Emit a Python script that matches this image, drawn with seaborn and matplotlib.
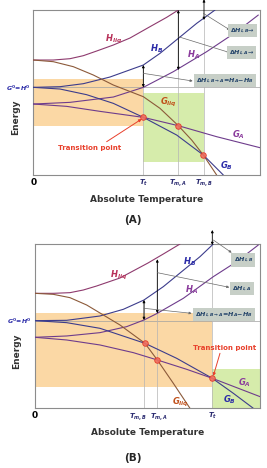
import matplotlib
matplotlib.use("Agg")
import matplotlib.pyplot as plt
import seaborn as sns

# ---- panel (A): transition temperature below both melting points ----
# schematic units (x: 0..680, y: 0..495)
a_hliq_x = [0, 60, 110, 150, 190, 240, 290, 350, 400, 435]
a_hliq_y = [345, 345, 349, 358, 372, 390, 411, 445, 473, 495]
a_hb_x = [0, 80, 150, 230, 330, 380, 435, 490, 545]
a_hb_y = [263, 265, 274, 294, 330, 365, 410, 455, 495]
a_ha_x = [0, 110, 240, 330, 420, 520, 610, 675]
a_ha_y = [213, 218, 234, 263, 310, 370, 430, 480]
a_gliq_x = [0, 60, 120, 180, 240, 330, 380, 435, 475, 510, 550]
a_gliq_y = [345, 340, 325, 300, 270, 235, 200, 148, 105, 60, 0]
a_gb_x = [0, 80, 160, 240, 330, 430, 510, 570]
a_gb_y = [263, 258, 241, 215, 173, 120, 60, 0]
a_ga_x = [0, 100, 200, 330, 435, 550, 680]
a_ga_y = [213, 206, 191, 173, 148, 115, 82]
a_points_x = [330, 435, 510]
a_points_y = [173, 148, 60]
a_ticks = [0, 330, 435, 512]
a_ticklabels = ["0", r"$T_t$", r"$T_{m,A}$", r"$T_{m,B}$"]
a_vline_top = [330, 495, 465]
a_g0 = 263

# ---- panel (B): transition temperature above both melting points ----
# schematic units (x: 0..675, y: 0..493)
b_hliq_x = [0, 55, 105, 145, 185, 255, 339, 385, 435]
b_hliq_y = [345, 345, 347, 355, 367, 391, 436, 463, 493]
b_hb_x = [0, 95, 195, 265, 327, 385, 440, 495, 535]
b_hb_y = [263, 264, 277, 297, 325, 365, 410, 455, 493]
b_ha_x = [0, 95, 195, 275, 327, 367, 445, 535, 605, 670]
b_ha_y = [213, 217, 227, 245, 265, 285, 330, 395, 440, 490]
b_gliq_x = [0, 55, 105, 155, 205, 255, 330, 367, 415, 465]
b_gliq_y = [345, 342, 332, 310, 280, 250, 195, 145, 75, 0]
b_gb_x = [0, 95, 195, 330, 425, 532, 595, 655]
b_gb_y = [263, 257, 240, 195, 150, 90, 45, 0]
b_ga_x = [0, 95, 195, 295, 367, 455, 532, 675]
b_ga_y = [213, 205, 190, 167, 145, 117, 90, 35]
b_points_x = [330, 367, 532]
b_points_y = [195, 145, 90]
b_ticks = [0, 310, 373, 532]
b_ticklabels = ["0", r"$T_{m,B}$", r"$T_{m,A}$", r"$T_t$"]
b_vline_x = [327, 367, 532]
b_vline_top = [325, 447, 490]
b_g0 = 263

sns.set_style("white")
plt.rcParams["font.family"] = ["DejaVu Sans"]
plt.rcParams["mathtext.fontset"] = "custom"
plt.rcParams["mathtext.it"] = "DejaVu Sans:italic:bold"
plt.rcParams["mathtext.rm"] = "DejaVu Sans:bold"
plt.rcParams["mathtext.bf"] = "DejaVu Sans:bold"

line_col = {"hliq": "#8e3a6e", "hb": "#3c3c8c", "ha": "#6e3c8c",
            "gliq": "#8c5a3a", "ga": "#6e3c8c", "gb": "#3c3c8c"}
lab_col = {"hliq": "#b8325a", "hb": "#2b2ba8", "ha": "#8a3a9c",
           "gliq": "#c0501a", "ga": "#8a3a9c", "gb": "#2b2ba8"}
lab_txt = {"hliq": r"$H_{liq}$", "hb": r"$H_B$", "ha": r"$H_A$",
           "gliq": r"$G_{liq}$", "ga": r"$G_A$", "gb": r"$G_B$"}

panels = {
    "A": dict(
        curves={"hliq": (a_hliq_x, a_hliq_y), "hb": (a_hb_x, a_hb_y), "ha": (a_ha_x, a_ha_y),
                "gliq": (a_gliq_x, a_gliq_y), "gb": (a_gb_x, a_gb_y), "ga": (a_ga_x, a_ga_y)},
        xlim=680, ylim=495, g0=a_g0,
        orange=((0, 330), (148, 288)), green=((330, 512), (40, 245)),
        vx=[330, 435, 512], vtop=a_vline_top,
        pts=(a_points_x, a_points_y), ticks=a_ticks, ticklabels=a_ticklabels,
        darrows=[(330, 263, 330), (435, 315, 495), (512, 465, 527)],
        garrows=[((510, 485), (590, 435)), ((435, 415), (590, 367)), ((330, 305), (478, 282))],
        boxes=[(628, 433, r"$\Delta H_{l,B}$→"), (625, 367, r"$\Delta H_{l,A}$→"),
               (575, 283, r"$\Delta H_{l,B\rightarrow A}\!=\!H_A\!-\!H_B$")],
        labels={"hliq": (240, 407), "hb": (370, 380), "ha": (480, 360),
                "gliq": (405, 217), "ga": (615, 120), "gb": (580, 28)},
        tp_text=(170, 80), tp_arrow=((220, 100), (325, 168)),
    ),
    "B": dict(
        curves={"hliq": (b_hliq_x, b_hliq_y), "hb": (b_hb_x, b_hb_y), "ha": (b_ha_x, b_ha_y),
                "gliq": (b_gliq_x, b_gliq_y), "gb": (b_gb_x, b_gb_y), "ga": (b_ga_x, b_ga_y)},
        xlim=675, ylim=493, g0=b_g0,
        orange=((0, 532), (65, 287)), green=((532, 675), (0, 117)),
        vx=b_vline_x, vtop=b_vline_top,
        pts=(b_points_x, b_points_y), ticks=b_ticks, ticklabels=b_ticklabels,
        darrows=[(327, 265, 325), (367, 285, 447), (532, 490, 535)],
        garrows=[((535, 505), (590, 467)), ((367, 407), (583, 363)), ((327, 300), (470, 285))],
        boxes=[(625, 445, r"$\Delta H_{l,B}$"), (620, 360, r"$\Delta H_{l,A}$"),
               (567, 282, r"$\Delta H_{l,B\rightarrow A}\!=\!H_A\!-\!H_B$")],
        labels={"hliq": (250, 400), "hb": (463, 440), "ha": (470, 357),
                "gliq": (437, 17), "ga": (627, 77), "gb": (583, 27)},
        tp_text=(570, 180), tp_arrow=((555, 165), (535, 97)),
    ),
}

fig = plt.figure(figsize=(2.67, 4.68), dpi=100)
axA = fig.add_axes([0.1248, 0.626, 0.849, 0.3526])
axB = fig.add_axes([0.131, 0.1276, 0.8427, 0.351])


def draw_panel(ax, p):
    (ox, oy), (gx, gy) = p["orange"], p["green"]
    ax.fill_between(ox, oy[0], oy[1], color="#fbd8a5", lw=0, zorder=0)
    ax.fill_between(gx, gy[0], gy[1], color="#d6ecab", lw=0, zorder=0)
    ax.axhline(p["g0"], color="#a0a0a0", lw=0.5, zorder=1)
    ax.vlines(p["vx"], 0, p["vtop"], color="#b4b4b4", lw=0.5, zorder=1)
    for key, (xs, ys) in p["curves"].items():
        sns.lineplot(x=xs, y=ys, ax=ax, color=line_col[key], lw=0.8, sort=False, zorder=3)
        tx, ty = p["labels"][key]
        ax.text(tx, ty, lab_txt[key], color=lab_col[key], fontsize=6, ha="center", va="center")
    sns.scatterplot(x=p["pts"][0], y=p["pts"][1], ax=ax, s=16, color="#f07060",
                    edgecolor="#e03020", linewidth=0.6, alpha=0.9, zorder=5)
    for x, y0, y1 in p["darrows"]:
        ax.annotate("", xy=(x, y1), xytext=(x, y0), annotation_clip=False,
                    arrowprops=dict(arrowstyle="<|-|>", color="black", lw=0.6,
                                    mutation_scale=3.5, shrinkA=0, shrinkB=0))
    for (x0, y0), (x1, y1) in p["garrows"]:
        ax.annotate("", xy=(x1, y1), xytext=(x0, y0), annotation_clip=False,
                    arrowprops=dict(arrowstyle="-|>", color="#6a6a6a", lw=0.5,
                                    mutation_scale=3.5, shrinkA=0, shrinkB=0))
    for bx, by, txt in p["boxes"]:
        ax.text(bx, by, txt, fontsize=4.6, color="#24446a", ha="center", va="center",
                clip_on=False, zorder=6,
                bbox=dict(boxstyle="square,pad=0.35", fc="#c7cfc7", ec="none"))
    ax.text(*p["tp_text"], "Transition point", color="#e8402c", fontsize=5,
            fontweight="bold", ha="center", va="center")
    ax.annotate("", xy=p["tp_arrow"][1], xytext=p["tp_arrow"][0],
                arrowprops=dict(arrowstyle="-|>", color="#e8402c", lw=0.7,
                                mutation_scale=4, shrinkA=0, shrinkB=0))
    ax.set_xlim(0, p["xlim"])
    ax.set_ylim(0, p["ylim"])
    ax.set_xticks(p["ticks"])
    ax.set_xticklabels(p["ticklabels"])
    ax.set_yticks([p["g0"]])
    ax.set_yticklabels([r"$G^0\!=\!H^0$"])
    ax.tick_params(length=0, pad=2)
    for i, t in enumerate(ax.get_xticklabels()):
        if i == 0:
            t.set_fontsize(6.5)
            t.set_fontweight("bold")
            t.set_color("black")
        else:
            t.set_fontsize(5)
            t.set_color("#2a2a70")
    for t in ax.get_yticklabels():
        t.set_fontsize(4.5)
        t.set_color("#2b2ba8")
    for s in ax.spines.values():
        s.set_color("#8c8c8c")
        s.set_linewidth(0.8)
    ax.set_xlabel("Absolute Temperature", fontsize=6.5, fontweight="bold", color="#333333")
    ax.set_ylabel("Energy", fontsize=6.5, fontweight="bold", color="#333333")
    ax.xaxis.label.set_va("center")
    ax.yaxis.label.set_va("center")
    ax.xaxis.set_label_coords(0.5, -0.15)
    ax.yaxis.set_label_coords(-0.08, 0.35)


draw_panel(axA, panels["A"])
draw_panel(axB, panels["B"])

fig.text(0.498, 0.530, "(A)", fontsize=7.5, fontweight="bold", ha="center", va="center")
fig.text(0.498, 0.0214, "(B)", fontsize=7.5, fontweight="bold", ha="center", va="center")

fig.savefig("out.png", dpi=100)
